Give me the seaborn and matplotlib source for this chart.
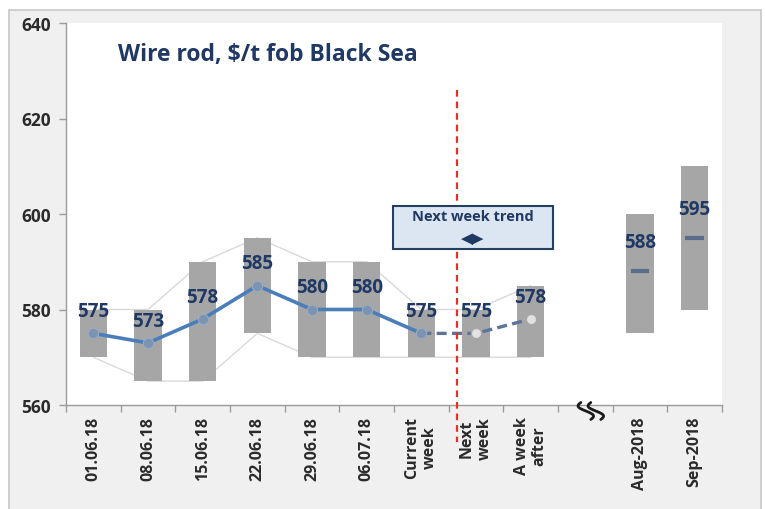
import numpy as np
import pandas as pd
import matplotlib
matplotlib.use("Agg")
import matplotlib.pyplot as plt
from matplotlib.patches import Rectangle
from matplotlib.transforms import ScaledTranslation
import seaborn as sns

# ---- data -------------------------------------------------------------
tick_labels = ["01.06.18", "08.06.18", "15.06.18", "22.06.18", "29.06.18",
               "06.07.18", "Current\nweek", "Next\nweek", "A week\nafter",
               "", "Aug-2018", "Sep-2018"]

week_labels = ["01.06.18", "08.06.18", "15.06.18", "22.06.18", "29.06.18",
               "06.07.18", "Current week", "Next week", "A week after"]
week_low = [570, 565, 565, 575, 570, 570, 570, 570, 570]
week_high = [580, 580, 590, 595, 590, 590, 580, 580, 585]
week_price = [575, 573, 578, 585, 580, 580, 575, 575, 578]
n_actual = 7            # 01.06.18 .. Current week are actual prices

month_labels = ["Aug-2018", "Sep-2018"]
month_low = [575, 580]
month_high = [600, 610]
month_price = [588, 595]

title = "Wire rod, $/t fob Black Sea"
trend_title = "Next week trend"
trend_sign = "\u25C0\u25B6"

# ---- layout / style ---------------------------------------------------
sns.set_theme(style="white")
plt.rcParams["font.family"] = ["Open Sans", "DejaVu Sans"]

NAVY = "#1f3864"
BAR = "#a6a6a6"
LINE = "#4a7ebb"
FCST = "#5b7497"

week_x = np.arange(len(week_labels))
month_x = np.array([10, 11])

fig = plt.figure(figsize=(7.65, 5.10), dpi=100, facecolor="white")
W, H = 765, 510
fig.patches.append(Rectangle((9 / W, -0.01), 752 / W, 1.01 - 11 / H,
                             transform=fig.transFigure, facecolor="#f0f0f0",
                             edgecolor="#c8c8c8", linewidth=1.2, zorder=-10))
ax = fig.add_axes([66 / W, (H - 406) / H, (722 - 66) / W, (406 - 24) / H])
ax.set_facecolor("white")

# thin envelope lines through the weekly highs / lows
ax.plot(week_x, week_high, color="#d9d9d9", lw=1.0, zorder=1)
ax.plot(week_x, week_low, color="#d9d9d9", lw=1.0, zorder=1)

# range bars (low .. high)
bw = 0.5
ax.bar(week_x, np.array(week_high) - np.array(week_low), bottom=week_low,
       width=bw, color=BAR, edgecolor="none", zorder=2)
ax.bar(month_x, np.array(month_high) - np.array(month_low), bottom=month_low,
       width=bw, color=BAR, edgecolor="none", zorder=2)

# price line: actual (solid) then forecast (dashed)
df = pd.DataFrame({"x": week_x, "price": week_price})
act = df.iloc[:n_actual]
fc = df.iloc[n_actual - 1:]
sns.lineplot(data=act, x="x", y="price", ax=ax, color=LINE, lw=2.6,
             zorder=3, legend=False)
sns.lineplot(data=fc, x="x", y="price", ax=ax, color=FCST, lw=2.4,
             zorder=3, legend=False, linestyle=(0, (3, 1.6)))
sns.scatterplot(data=act, x="x", y="price", ax=ax, s=55, color="#7d93b2",
                edgecolor="#9aaac2", linewidth=0.8, zorder=4, legend=False)
sns.scatterplot(data=df.iloc[n_actual:], x="x", y="price", ax=ax, s=55,
                color="#e2e2e2", edgecolor="#a8a8a8", linewidth=1.0,
                zorder=4, legend=False)

# monthly averages: short dashes
ax.hlines(month_price, month_x - 0.17, month_x + 0.17, color="#5a6c8c",
          lw=3, zorder=4)

# value labels
for x, v in zip(week_x, week_price):
    ax.annotate(f"{v}", (x, v), xytext=(0, 16), textcoords="offset points",
                ha="center", va="center", fontsize=13.5, fontweight="bold",
                color=NAVY, zorder=6)
for x, v in zip(month_x, month_price):
    ax.annotate(f"{v}", (x, v), xytext=(0, 21), textcoords="offset points",
                ha="center", va="center", fontsize=13.5, fontweight="bold",
                color=NAVY, zorder=6)

# forecast divider
ax.plot([6.65, 6.65], [626, 552.3], color="#e03030", lw=1.6,
        linestyle=(0, (3, 2.2)), clip_on=False, zorder=5)

# trend box
ax.add_patch(Rectangle((5.49, 592.7), 2.91, 9.0, facecolor="#dce6f2",
                       edgecolor="#243f60", lw=1.5, zorder=7))
ax.text(6.945, 599.6, trend_title, ha="center", va="center", fontsize=10.5,
        fontweight="bold", color=NAVY, zorder=8)
ax.text(6.945, 595.0, trend_sign, ha="center", va="center", fontsize=11,
        color=NAVY, family=["DejaVu Sans"], zorder=8)

# title
ax.text(0.45, 633.5, title, ha="left", va="center", fontsize=16.5,
        fontweight="bold", color=NAVY, zorder=8)

# axis break mark in the empty slot: two slanted S strokes
t = np.linspace(0, 1, 80)
sy = 0.5 - t                       # height fraction, top to bottom
sx = -0.5 * np.sin(2 * np.pi * t)  # width fraction
brk = fig.dpi_scale_trans + ScaledTranslation(9.1, 560, ax.transData)
for dx in (-0.05, 0.05):
    xs = dx + 0.10 * sx - 0.10 * sy
    ys = -0.06 + 0.17 * sy
    ax.plot(xs, ys, transform=brk, color="#1a1a1a", lw=2.0,
            solid_capstyle="round", clip_on=False, zorder=9)

# axes
ax.set_xlim(-0.5, 11.5)
ax.set_ylim(560, 640)
ax.set_yticks([560, 580, 600, 620, 640])
ax.set_xticks(np.arange(len(tick_labels)))
ax.set_xticklabels(tick_labels, rotation=90, fontsize=11.5, fontweight="bold",
                   color="#2b2b2b", linespacing=1.15)
ax.set_xticks(np.arange(-0.5, 12, 1.0), minor=True)
ax.tick_params(axis="x", which="major", length=0, pad=8)
ax.tick_params(axis="x", which="minor", length=5, color="#9a9a9a", width=1,
               direction="out", bottom=True)
ax.tick_params(axis="y", length=5, color="#9a9a9a", width=1, left=True,
               direction="out", labelsize=12.5, labelcolor="#2b2b2b", pad=6)
for lab in ax.get_yticklabels():
    lab.set_fontweight("bold")
ax.set_xlabel("")
ax.set_ylabel("")
for side in ("top", "right"):
    ax.spines[side].set_visible(False)
for side in ("left", "bottom"):
    ax.spines[side].set_color("#9a9a9a")
    ax.spines[side].set_linewidth(1.0)

fig.savefig("out.png", dpi=100, facecolor=fig.get_facecolor())
